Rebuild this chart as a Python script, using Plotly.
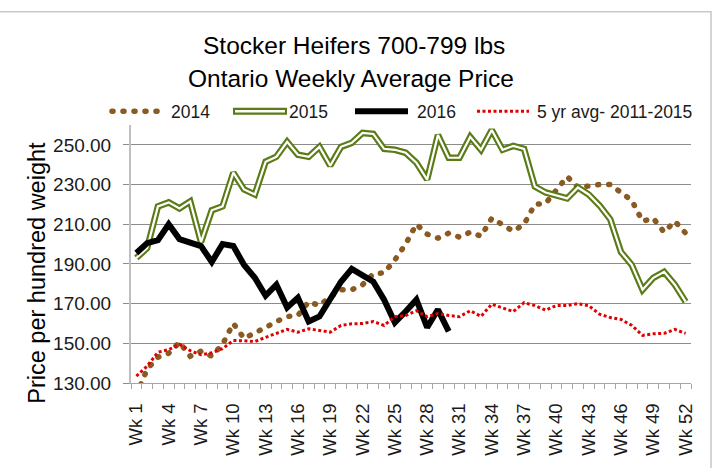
import plotly.graph_objects as go

weeks = list(range(1, 53))
week_labels = [f"Wk {w}" for w in weeks]
tick_weeks = weeks[::3]
tick_labels = [f"Wk {w}" for w in tick_weeks]

y2014 = [124, 137, 143, 145, 150.5, 143.5, 146, 143.5, 149.5, 160, 152.5, 155, 158, 161, 163.5, 164,
         171, 169, 173.5, 177, 177, 179.5, 185, 185.5, 192, 200, 210, 205, 203, 205.5, 203.5, 206,
         204, 213, 210, 206.5, 210, 220, 220.5, 227, 234, 228.5, 229.5, 230, 230, 226, 222, 211.5,
         213, 206, 211.5, 205.5]
y2015 = [193, 198, 219, 221, 218, 221.5, 201, 217, 219, 236, 227.5, 225, 241.5, 244, 251.5, 245,
         244, 249, 239.5, 249, 251, 256, 255.5, 248, 247.5, 246, 241, 232.5, 255, 243.5, 243.5, 254,
         247.5, 257.5, 247.5, 249.5, 248, 229, 226, 224.5, 223, 228.5, 225, 219.5, 212.5, 196, 189.5,
         177, 183, 186, 179.5, 171]
y2016 = [195.5, 200.5, 202, 210, 202.5, 201, 199, 191, 200, 199, 189.5, 183, 174, 179.5, 168, 173,
         161, 163.5, 172, 181, 187.5, 184.5, 181, 172, 160.5, 166, 172, 158, 167, 156]
y5yr = [133.5, 138.5, 145.5, 146.8, 149.5, 146.3, 144.2, 145.2, 147.3, 151.4, 151.3, 150.9, 153, 155,
        157, 155.6, 157.3, 156.5, 155.6, 159, 159.8, 160, 161, 159, 163.4, 164, 166.4, 163.4, 165, 164,
        163.4, 166.4, 163.6, 169.7, 168, 166, 170.5, 169, 166.7, 169, 169, 170, 169, 164.7, 163, 162,
        159, 154, 154.8, 155, 157, 155]
y_ticks = [130, 150, 170, 190, 210, 230, 250]

BROWN = "#8B5A20"
GREEN = "#5B7B17"
RED = "#E00000"
SANS = "Liberation Sans, Arial, sans-serif"
DOT_2014 = "1px,10px"
DOT_5YR = "3px,2.5px"

fig = go.Figure()
fig.add_trace(go.Scatter(x=weeks, y=y2014, mode="lines", name="2014",
                         line=dict(color=BROWN, width=5.5, dash=DOT_2014)))
fig.add_trace(go.Scatter(x=weeks, y=y2015, mode="lines", name="2015",
                         line=dict(color=GREEN, width=6.5)))
fig.add_trace(go.Scatter(x=weeks, y=y2015, mode="lines", showlegend=False,
                         line=dict(color="white", width=2.2)))
fig.add_trace(go.Scatter(x=weeks[:len(y2016)], y=y2016, mode="lines", name="2016",
                         line=dict(color="black", width=6)))
fig.add_trace(go.Scatter(x=weeks, y=y5yr, mode="lines", name="5 yr avg- 2011-2015",
                         line=dict(color=RED, width=3, dash=DOT_5YR)))

L, R, T, B = 131, 691, 125, 387
W, H = R - L, B - T

def px(x):
    return (x - L) / W

def py(y):
    return (B - y) / H

shapes = []
annotations = []
# outer chart border (top and right)
shapes.append(dict(type="rect", xref="paper", yref="paper", x0=px(-10), x1=px(711),
                   y0=py(480), y1=py(10), line=dict(color="#C8C8C8", width=1.5), layer="below"))
# custom legend
ly = py(111)
shapes.append(dict(type="line", xref="paper", yref="paper", x0=px(112), x1=px(161), y0=ly, y1=ly,
                   line=dict(color=BROWN, width=5.5, dash=DOT_2014)))
shapes.append(dict(type="line", xref="paper", yref="paper", x0=px(233), x1=px(287), y0=ly, y1=ly,
                   line=dict(color=GREEN, width=7)))
shapes.append(dict(type="line", xref="paper", yref="paper", x0=px(235), x1=px(285), y0=ly, y1=ly,
                   line=dict(color="white", width=2.5)))
shapes.append(dict(type="line", xref="paper", yref="paper", x0=px(355), x1=px(408), y0=ly, y1=ly,
                   line=dict(color="black", width=6)))
shapes.append(dict(type="line", xref="paper", yref="paper", x0=px(477), x1=px(529), y0=ly, y1=ly,
                   line=dict(color=RED, width=3, dash=DOT_5YR)))
for text, x in [("2014", 169), ("2015", 287), ("2016", 415), ("5 yr avg- 2011-2015", 535)]:
    annotations.append(dict(text=text, xref="paper", yref="paper", x=px(x), y=py(112),
                            xanchor="left", yanchor="middle", showarrow=False,
                            font=dict(family=SANS, size=17.5, color="#1a1a1a")))
# title
annotations.append(dict(text="Stocker Heifers 700-799 lbs", xref="paper", yref="paper",
                        x=px(354), y=py(44), xanchor="center", yanchor="middle", showarrow=False,
                        font=dict(family=SANS, size=24.5, color="black")))
annotations.append(dict(text="Ontario Weekly Average Price", xref="paper", yref="paper",
                        x=px(351), y=py(78), xanchor="center", yanchor="middle", showarrow=False,
                        font=dict(family=SANS, size=24.5, color="black")))
# y-axis title
annotations.append(dict(text="Price per hundred weight", xref="paper", yref="paper",
                        x=px(37), y=py(275), xanchor="center", yanchor="middle", textangle=-90,
                        showarrow=False, font=dict(family=SANS, size=23.5, color="black")))

fig.update_layout(
    width=715, height=468,
    margin=dict(l=L, r=715 - R, t=T, b=468 - B),
    paper_bgcolor="white", plot_bgcolor="white",
    showlegend=False,
    shapes=shapes, annotations=annotations,
    xaxis=dict(range=[0.5, 52.5], tickmode="array", tickvals=tick_weeks, ticktext=tick_labels,
               tickangle=-90, ticks="", ticklabelstandoff=12,
               tickfont=dict(family=SANS, size=18.5, color="#1a1a1a"),
               showgrid=False, zeroline=False, showline=True, linecolor="#A6A6A6", linewidth=1,
               minor=dict(ticks="outside", ticklen=5, tickcolor="#A6A6A6", tickmode="linear",
                          tick0=0.5, dtick=1, showgrid=False)),
    yaxis=dict(range=[130, 260], tickmode="array", tickvals=y_ticks,
               ticktext=[f"{v:.2f}" for v in y_ticks], ticks="outside", ticklen=6,
               tickcolor="#8C8C8C", ticklabelstandoff=8,
               tickfont=dict(family=SANS, size=19, color="#1a1a1a"),
               showgrid=True, gridcolor="#8C8C8C", gridwidth=1, zeroline=False,
               showline=True, linecolor="#BFBFBF", linewidth=2),
)

post = """
document.body.style.margin='0px';
document.querySelectorAll('path').forEach(function(p){
  var s = p.style.stroke || '';
  if (s.replace(/\\s/g,'') === 'rgb(139,90,32)') { p.style.strokeLinecap = 'round'; }
});
"""
fig.write_html("out.html", post_script=post, config={"displayModeBar": False})
